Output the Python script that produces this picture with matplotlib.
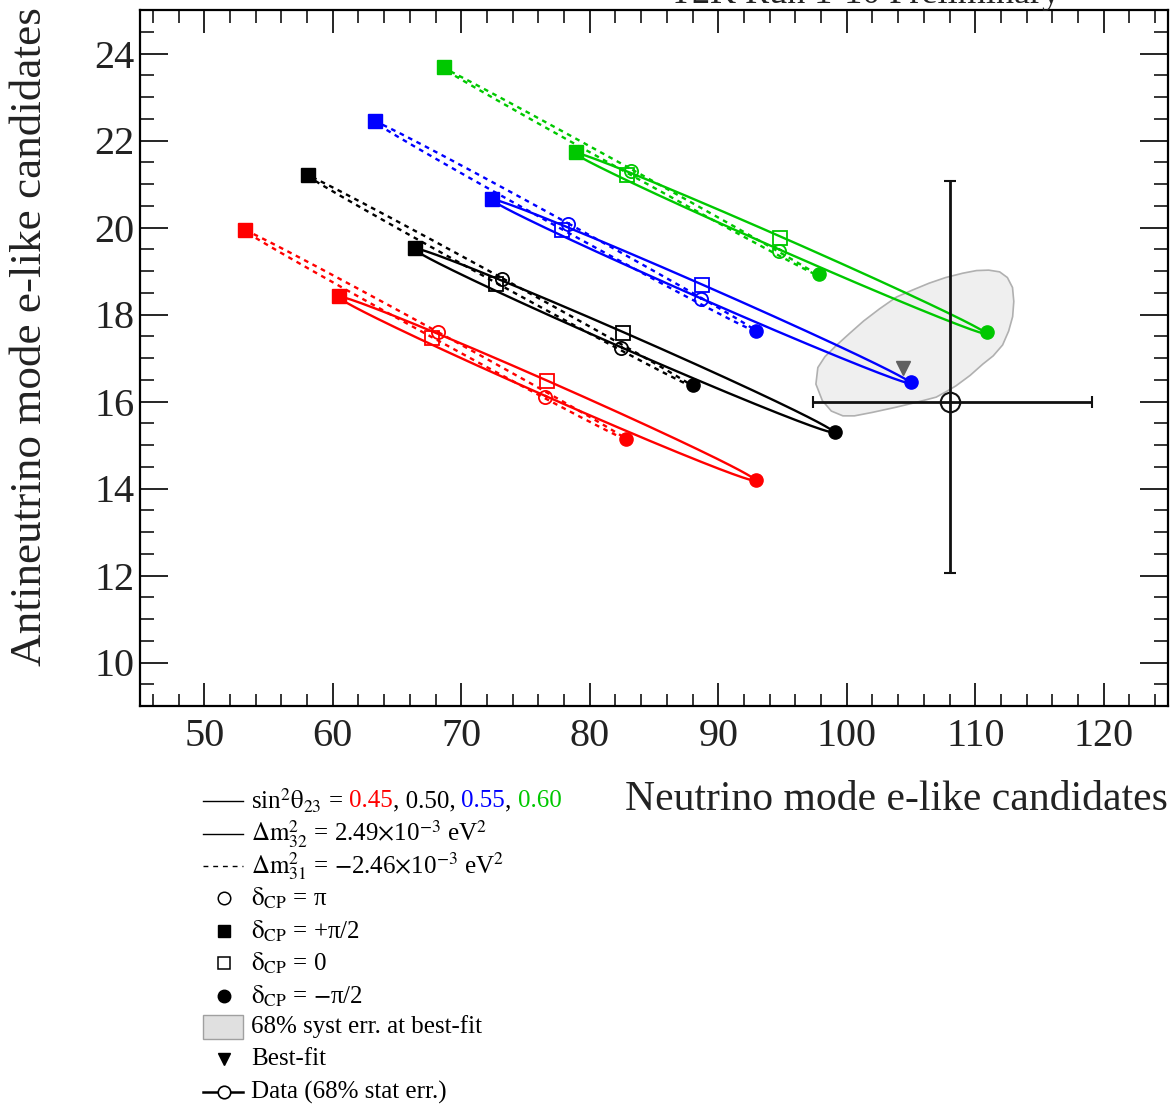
import numpy as np
import matplotlib
matplotlib.use("Agg")
import matplotlib.pyplot as plt
from matplotlib.patches import Polygon, Rectangle
from matplotlib.ticker import MultipleLocator

plt.rcParams['font.family'] = ['Liberation Serif', 'DejaVu Serif']
plt.rcParams['mathtext.fontset'] = 'stix'

# sin^2(theta23) values and their colours
theta_labels = ['0.45', '0.50', '0.55', '0.60']
colors = ['#ff0000', '#000000', '#0000ff', '#00c800']

# Normal ordering (dm2_32 = 2.49e-3): predicted (nu, nubar) e-like counts at four dCP values
no_pi2_nu = [60.51, 66.38, 72.41, 78.90]
no_pi2_nubar = [18.42, 19.53, 20.66, 21.74]
no_zero_nu = [76.66, 82.61, 88.72, 94.82]
no_zero_nubar = [16.46, 17.57, 18.67, 19.76]
no_pi_nu = [76.51, 82.46, 88.64, 94.74]
no_pi_nubar = [16.11, 17.22, 18.35, 19.46]
no_mpi2_nu = [92.97, 99.07, 105.02, 110.90]
no_mpi2_nubar = [14.20, 15.31, 16.44, 17.59]

# Inverted ordering (dm2_31 = -2.46e-3)
io_pi2_nu = [53.17, 58.11, 63.29, 68.62]
io_pi2_nubar = [19.94, 21.21, 22.45, 23.70]
io_zero_nu = [67.70, 72.72, 77.82, 82.92]
io_zero_nubar = [17.47, 18.70, 19.94, 21.21]
io_pi_nu = [68.16, 73.18, 78.28, 83.23]
io_pi_nubar = [17.59, 18.81, 20.08, 21.30]
io_mpi2_nu = [82.84, 88.02, 92.97, 97.84]
io_mpi2_nubar = [15.14, 16.37, 17.63, 18.93]

# Observed data and 68% statistical intervals
data_nu, data_nubar = 108.0, 16.0
data_nu_lo, data_nu_hi = 97.4, 119.1
data_nubar_lo, data_nubar_hi = 12.05, 21.07

# Best-fit prediction
bestfit_nu, bestfit_nubar = 104.4, 16.76

# 68% systematic-error contour around the best fit
syst_nu = [97.60, 97.75, 98.30, 99.23, 100.20, 101.31, 102.55, 103.86, 105.10, 106.41,
           107.70, 109.04, 110.10, 111.05, 111.90, 112.50, 112.90, 113.00, 112.91,
           112.60, 112.13, 111.40, 110.59, 109.60, 108.50, 107.70, 106.96, 105.40,
           103.86, 102.00, 100.60, 99.70, 98.80, 98.10]
syst_nubar = [16.40, 16.78, 17.03, 17.30, 17.56, 17.85, 18.13, 18.40, 18.56, 18.72,
              18.85, 18.95, 19.01, 19.02, 18.98, 18.85, 18.62, 18.30, 17.95,
              17.62, 17.30, 17.05, 16.86, 16.60, 16.36, 16.22, 16.10, 15.98,
              15.87, 15.75, 15.67, 15.67, 15.78, 16.02]

x_ticks = [50, 60, 70, 80, 90, 100, 110, 120]
y_ticks = [10, 12, 14, 16, 18, 20, 22, 24]

W, H = 1172, 1106
fig = plt.figure(figsize=(W / 100, H / 100), dpi=100)
ax = fig.add_axes([140 / W, 1 - 706 / H, (1168 - 140) / W, (706 - 10) / H])
ax.set_xlim(45, 125)
ax.set_ylim(9, 25)

# systematic contour (beneath everything)
ax.add_patch(Polygon(np.column_stack([syst_nu, syst_nubar]), closed=True,
                     facecolor='#efefef', edgecolor='#b0b0b0', lw=1.2,
                     joinstyle='round', zorder=1))

delta = np.linspace(-np.pi, np.pi, 361)


def dcp_contour(p0, ppi, pp2, pm2):
    """Closed curve swept by dCP through its four marked points."""
    p0, ppi, pp2, pm2 = map(np.asarray, (p0, ppi, pp2, pm2))
    centre = (p0 + ppi + pp2 + pm2) / 4.0
    a = (p0 - ppi) / 2.0
    b = (pp2 - pm2) / 2.0
    pts = centre[None, :] + np.cos(delta)[:, None] * a + np.sin(delta)[:, None] * b
    return pts[:, 0], pts[:, 1]


ms = 9.5
for i, c in enumerate(colors):
    for (zn, zb, pn, pb, p2n, p2b, m2n, m2b, ls) in [
        (io_zero_nu, io_zero_nubar, io_pi_nu, io_pi_nubar,
         io_pi2_nu, io_pi2_nubar, io_mpi2_nu, io_mpi2_nubar, (0, (2.0, 2.0))),
        (no_zero_nu, no_zero_nubar, no_pi_nu, no_pi_nubar,
         no_pi2_nu, no_pi2_nubar, no_mpi2_nu, no_mpi2_nubar, '-')]:
        cx, cy = dcp_contour((zn[i], zb[i]), (pn[i], pb[i]),
                             (p2n[i], p2b[i]), (m2n[i], m2b[i]))
        ax.plot(cx, cy, color=c, lw=1.7, ls=ls, zorder=3)
        ax.plot(pn[i], pb[i], 'o', ms=ms, mfc='none', mec=c, mew=1.3, zorder=4)
        ax.plot(p2n[i], p2b[i], 's', ms=ms, color=c, zorder=4)
        ax.plot(zn[i], zb[i], 's', ms=ms, mfc='none', mec=c, mew=1.3, zorder=4)
        ax.plot(m2n[i], m2b[i], 'o', ms=ms, color=c, zorder=4)

# best fit
ax.plot(bestfit_nu, bestfit_nubar, 'v', ms=10, color='#606060', zorder=5)

# data with statistical error bars
ax.errorbar([data_nu], [data_nubar],
            xerr=[[data_nu - data_nu_lo], [data_nu_hi - data_nu]],
            yerr=[[data_nubar - data_nubar_lo], [data_nubar_hi - data_nubar]],
            fmt='o', ms=14, mfc='none', mec='#111111', mew=1.5,
            ecolor='#111111', elinewidth=2.0, capsize=4, capthick=1.5, zorder=6)

ax.set_xticks(x_ticks)
ax.set_yticks(y_ticks)
ax.xaxis.set_minor_locator(MultipleLocator(2))
ax.yaxis.set_minor_locator(MultipleLocator(0.5))
ax.tick_params(axis='x', which='major', direction='in', top=True, length=16.5,
               width=1.2, labelsize=29, pad=9, labelcolor='#222222')
ax.tick_params(axis='x', which='minor', direction='in', top=True, length=9, width=1.1)
ax.tick_params(axis='y', which='major', direction='in', right=True, length=20,
               width=1.2, labelsize=29, pad=4, labelcolor='#222222')
ax.tick_params(axis='y', which='minor', direction='in', right=True, length=10, width=1.1)
for s in ax.spines.values():
    s.set_linewidth(1.6)

fig.text(30 / W, 1 - 337 / H, 'Antineutrino mode e-like candidates', rotation=90,
         ha='center', va='center', fontsize=32.5, color='#222222')
fig.text(1168 / W, 1 - 800 / H, 'Neutrino mode e-like candidates',
         ha='right', va='center', fontsize=30, color='#222222')
fig.text(1060 / W, 1 - 3 / H, 'T2K Run 1-10 Preliminary', ha='right',
         va='baseline', fontsize=26, color='#222222')

# legend panel drawn in pixel coordinates
lg = fig.add_axes([0, 0, 1, 1], facecolor='none')
lg.set_xlim(0, W)
lg.set_ylim(H, 0)
lg.axis('off')

rows = [801, 834, 866, 898, 931, 963, 996, 1027, 1059, 1092]
x0, x1, xm, xt = 203, 243, 224, 251
fs = 18
lg.plot([x0, x1], [rows[0]] * 2, color='k', lw=1)
lg.plot([x0, x1], [rows[1]] * 2, color='k', lw=1)
lg.plot([x0, x1], [rows[2]] * 2, color='k', lw=1, ls=(0, (3.5, 3.5)))
lg.plot(xm, rows[3], 'o', ms=9, mfc='none', mec='k', mew=1.1)
lg.plot(xm, rows[4], 's', ms=9, color='k')
lg.plot(xm, rows[5], 's', ms=9, mfc='none', mec='k', mew=1.1)
lg.plot(xm, rows[6], 'o', ms=9, color='k')
lg.add_patch(Rectangle((x0, rows[7] - 12), x1 - x0, 24, facecolor='#e0e0e0',
                       edgecolor='#a0a0a0', lw=1))
lg.plot(xm, rows[8], 'v', ms=9, color='k')
lg.plot([x0, x1], [rows[9]] * 2, color='k', lw=1.8)
lg.plot(xm, rows[9], 'o', ms=9, mfc='white', mec='k', mew=1.2)

renderer = fig.canvas.get_renderer()
pieces = [(r'sin$^{2}\mathrm{θ}_{23}$ =', 'k', 0), ('0.45', colors[0], 6),
          (', 0.50,', 'k', 0), ('0.55', colors[2], 6), (',', 'k', 0),
          ('0.60', colors[3], 6)]
xpos = xt
for txt, col, gap in pieces:
    t = lg.text(xpos + gap, rows[0], txt, fontsize=fs, color=col, va='center', ha='left')
    bb = t.get_window_extent(renderer)
    xpos = bb.x1

labels = [r'$\mathrm{Δm}^{2}_{32}$ = 2.49$\times$10$^{-3}$ eV$^{2}$',
          r'$\mathrm{Δm}^{2}_{31}$ = $-$2.46$\times$10$^{-3}$ eV$^{2}$',
          r'$\mathrm{δ}_{\mathrm{CP}}$ = π',
          r'$\mathrm{δ}_{\mathrm{CP}}$ = +π/2',
          r'$\mathrm{δ}_{\mathrm{CP}}$ = 0',
          r'$\mathrm{δ}_{\mathrm{CP}}$ = $-$π/2',
          '68% syst err. at best-fit',
          'Best-fit',
          'Data (68% stat err.)']
for y, txt in zip(rows[1:], labels):
    lg.text(xt, y, txt, fontsize=fs, color='k', va='center', ha='left')

fig.savefig('out.png', dpi=100)
